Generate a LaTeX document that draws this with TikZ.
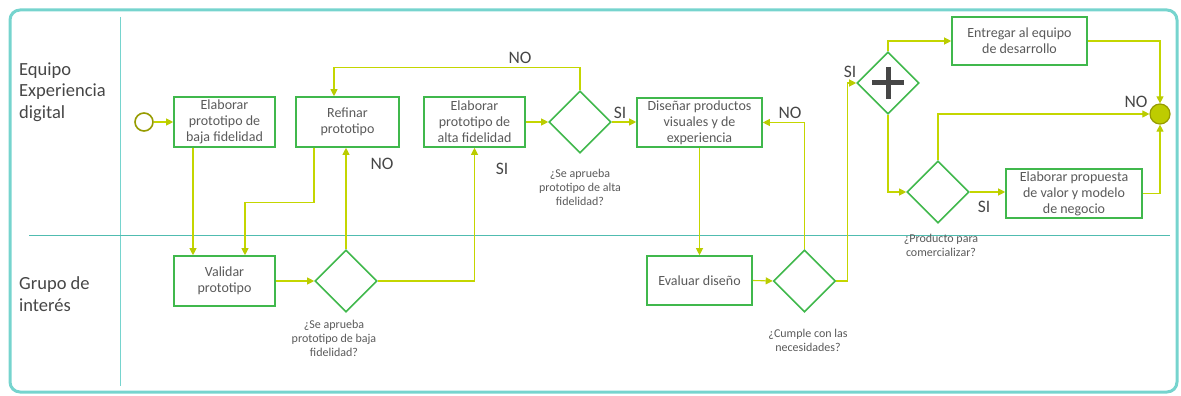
\documentclass[tikz,border=0pt]{standalone}
\usepackage{fontspec}
\setmainfont{Carlito}
\usetikzlibrary{arrows.meta,shapes.geometric,calc}
\definecolor{lanecol}{RGB}{118,212,206}
\definecolor{lanesep}{RGB}{80,188,176}
\definecolor{boxcol}{RGB}{64,184,76}
\definecolor{flowcol}{RGB}{196,214,0}
\definecolor{tipcol}{RGB}{186,204,0}
\definecolor{olive}{RGB}{150,155,0}
\definecolor{endfill}{RGB}{190,204,0}
\definecolor{txt}{RGB}{90,90,90}
\definecolor{lbl}{RGB}{70,70,70}
\tikzset{
  task/.style={draw=boxcol, line width=1.6pt, fill=white, rectangle, inner sep=1pt,
    align=center, text=txt, font=\fontsize{14}{16}\selectfont},
  gate/.style={draw=boxcol, line width=1.6pt, fill=white, diamond, inner sep=0pt,
    minimum width=62pt, minimum height=62pt},
  flow/.style={draw=flowcol, line width=1.1pt, -{Triangle[length=7pt,width=7pt,color=tipcol]}},
  answer/.style={text=lbl, font=\fontsize{17.5}{19}\selectfont, inner sep=0pt},
  question/.style={text=txt, align=center, font=\fontsize{12}{14}\selectfont, inner sep=0pt},
  lanetitle/.style={text=lbl, align=left, anchor=west, inner sep=0pt,
    font=\fontsize{18.5}{21.5}\selectfont},
}
\begin{document}
\begin{tikzpicture}[x=1pt,y=-1pt]
\useasboundingbox (0,0) rectangle (1181,396);

% pool frame and lanes
\draw[lanecol, line width=3pt, rounded corners=10pt] (10,10) rectangle (1177,392);
\draw[lanecol, line width=1pt] (120,17) -- (120,386);
\draw[lanesep, line width=1pt] (29,235) -- (1170,235);

\node[lanetitle] (laneA) at (19,92) {Equipo\\Experiencia\\digital};
\node[lanetitle] (laneB) at (19,294) {Grupo de\\interés};

% events
\node[circle, draw=olive, line width=1.6pt, minimum size=18pt, inner sep=0pt] (start) at (144,122) {};
\node[circle, draw=olive, fill=endfill, line width=1.2pt, minimum size=20pt, inner sep=0pt] (end) at (1160,114) {};

% tasks
\node[task, minimum width=101pt, minimum height=50pt] (baja) at (224.5,122) {Elaborar\\prototipo de\\baja fidelidad};
\node[task, minimum width=103pt, minimum height=50pt] (refinar) at (347.5,122) {Refinar\\prototipo};
\node[task, minimum width=101pt, minimum height=50pt] (alta) at (474.5,122) {Elaborar\\prototipo de\\alta fidelidad};
\node[task, minimum width=125pt, minimum height=49pt] (disenar) at (699.5,122.5) {Diseñar productos\\visuales y de\\experiencia};
\node[task, minimum width=135pt, minimum height=48pt] (entregar) at (1019.5,41) {Entregar al equipo\\de desarrollo};
\node[task, minimum width=136pt, minimum height=49pt] (propuesta) at (1074,193.5) {Elaborar propuesta\\de valor y modelo\\de negocio};
\node[task, minimum width=101pt, minimum height=50pt] (validar) at (224.5,281) {Validar\\prototipo};
\node[task, minimum width=105pt, minimum height=49pt] (evaluar) at (699.5,280.5) {Evaluar diseño};

% gateways
\node[gate] (qalta) at (580,122) {};
\node[gate] (qbaja) at (346,281) {};
\node[gate] (qcumple) at (804.5,281) {};
\node[gate] (qprod) at (938,192) {};
\node[gate] (par) at (888,83) {};
\draw[lbl, line width=5pt] ($(par.center)+(-16,0)$) -- ($(par.center)+(16,0)$)
  ($(par.center)+(0,-16)$) -- ($(par.center)+(0,16)$);

% gateway questions
\node[question] (talta) at (580,187) {¿Se aprueba\\prototipo de alta\\fidelidad?};
\node[question] (tbaja) at (334,338) {¿Se aprueba\\prototipo de baja\\fidelidad?};
\node[question] (tcumple) at (808,340) {¿Cumple con las\\necesidades?};
\node[question] (tprod) at (941,245) {¿Producto para\\comercializar?};

% routing columns
\coordinate (xa) at (193,0);
\coordinate (xb) at (314,0);
\coordinate (xc) at (245,0);
\coordinate (xd) at (334,0);

% sequence flows
\draw[flow] (start.east) -- (baja.west);
\draw[flow] (baja.south -| xa) -- (validar.north -| xa);
\draw[flow] (refinar.south -| xb) -- ++(0,55) -| (validar.north -| xc);
\draw[flow] (validar.east) -- (qbaja.west);
\draw[flow] (qbaja.north) -- (qbaja.north |- refinar.south);
\draw[flow] (qbaja.east) -| (alta.south);
\draw[flow] (alta.east) -- (qalta.west);
\draw[flow] (qalta.north) -- ++(0,-23) -| (refinar.north -| xd);
\draw[flow] (qalta.east) -- (disenar.west |- qalta.east);
\draw[flow] (disenar.south) -- (evaluar.north);
\draw[flow] (evaluar.east) -- (qcumple.west);
\draw[flow] (qcumple.north) |- (disenar.east);
\draw[flow] (qcumple.east) -- ++(11,0) |- (par.west);
\draw[flow] (par.north) |- (entregar.west);
\draw[flow] (par.south) |- (qprod.west);
\draw[flow] (qprod.east) -- (qprod.east -| propuesta.west);
\draw[flow] (qprod.north) |- (end.west);
\draw[flow] (entregar.east) -| (end.north);
\draw[flow] (propuesta.east) -| (end.south);

% branch labels
\node[answer] (no1) at (382,164) {NO};
\node[answer] (si1) at (502,169) {SI};
\node[answer] (no2) at (520,58) {NO};
\node[answer] (si2) at (620,113) {SI};
\node[answer] (no3) at (790,113) {NO};
\node[answer] (si3) at (850,72) {SI};
\node[answer] (si4) at (984,207) {SI};
\node[answer] (no4) at (1136,102) {NO};
\end{tikzpicture}
\end{document}
